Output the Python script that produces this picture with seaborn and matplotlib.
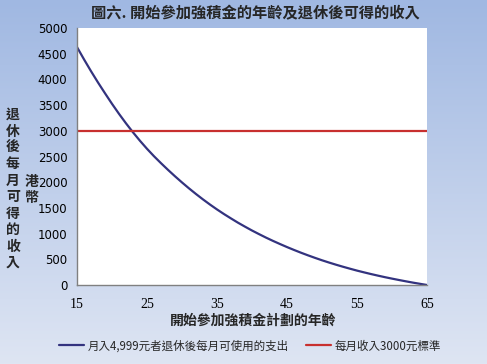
import numpy as np
import pandas as pd
import matplotlib
matplotlib.use("Agg")
import matplotlib.pyplot as plt
import seaborn as sns

# ages at which the member joins the MPF scheme
ages = list(range(15, 66))

# monthly amount available after retirement (HKD)
income = [4629, 4390, 4160, 3940, 3730, 3525, 3330, 3145, 2970, 2805,
          2650, 2505, 2370, 2240, 2115, 1995, 1880, 1770, 1665, 1565,
          1470, 1380, 1295, 1212, 1135, 1060, 990, 922, 858, 797,
          738, 682, 628, 577, 528, 481, 437, 395, 355, 317,
          280, 246, 213, 182, 152, 124, 97, 71, 46, 23, 0]

# reference level
standard = [3000] * len(ages)

series_names = ["月入4,999元者退休後每月可使用的支出", "每月收入3000元標準"]
title = "圖六. 開始參加強積金的年齡及退休後可得的收入"
x_label = "開始參加強積金計劃的年齡"
y_label = "退休後每月可得的收入"
y_unit = "港幣"

df = pd.DataFrame({"age": ages, "income": income, "standard": standard})

sns.set_theme(style="white")
cjk = ["Noto Sans CJK TC", "DejaVu Sans"]
plt.rcParams["font.family"] = cjk

fig = plt.figure(figsize=(4.87, 3.64), dpi=100)

# gradient background
bg = fig.add_axes([0, 0, 1, 1], zorder=-10)
grad = np.linspace(0, 1, 256).reshape(-1, 1)
top_c = np.array([160, 184, 226]) / 255
bot_c = np.array([222, 229, 243]) / 255
img = top_c * (1 - grad[..., None]) + bot_c * grad[..., None]
bg.imshow(img, aspect="auto", extent=[0, 1, 0, 1])
bg.axis("off")

ax = fig.add_axes([77 / 487, 1 - 285 / 364, 350 / 487, 257 / 364])
ax.set_facecolor("white")

blue = "#33337f"
red = "#c8302f"
sns.lineplot(data=df, x="age", y="income", ax=ax, color=blue, linewidth=1.6,
             label=series_names[0], legend=False)
sns.lineplot(data=df, x="age", y="standard", ax=ax, color=red, linewidth=1.6,
             label=series_names[1], legend=False)

ax.set_xlim(15, 65)
ax.set_ylim(0, 5000)
ax.set_xticks(range(15, 66, 10))
ax.set_yticks(range(0, 5001, 500))
ax.set_xlabel("")
ax.set_ylabel("")

for s in ["top", "right"]:
    ax.spines[s].set_visible(False)
for s in ["left", "bottom"]:
    ax.spines[s].set_color("#808080")
    ax.spines[s].set_linewidth(1.0)
ax.tick_params(axis="both", direction="out", length=4, width=1, color="#808080",
               labelcolor="black", pad=3)
ax.tick_params(axis="x", pad=5)
for lab in ax.get_yticklabels():
    lab.set_fontfamily("DejaVu Sans")
    lab.set_fontsize(8.5)
for lab in ax.get_xticklabels():
    lab.set_fontfamily("Liberation Serif")
    lab.set_fontsize(10)

fig.text(255 / 487, 1 - 13 / 364, title, ha="center", va="center",
         fontsize=11, fontweight="bold", family=cjk)
fig.text(253 / 487, 1 - 321 / 364, x_label, ha="center", va="center",
         fontsize=10, fontweight="bold", family=cjk)
fig.text(13 / 487, 1 - 189 / 364, "\n".join(y_label), ha="center", va="center",
         fontsize=10, fontweight="bold", family=cjk, linespacing=1.22)
fig.text(32 / 487, 1 - 190 / 364, "\n".join(y_unit), ha="center", va="center",
         fontsize=10, fontweight="bold", family=cjk, linespacing=1.1)

handles, labels = ax.get_legend_handles_labels()
fig.legend(handles, labels, loc="center", bbox_to_anchor=(250 / 487, 1 - 346 / 364),
           ncol=2, frameon=False, handlelength=2.2, handletextpad=0.3,
           columnspacing=1.5, prop={"family": cjk, "size": 8.3})

fig.savefig("out.png", dpi=100)
